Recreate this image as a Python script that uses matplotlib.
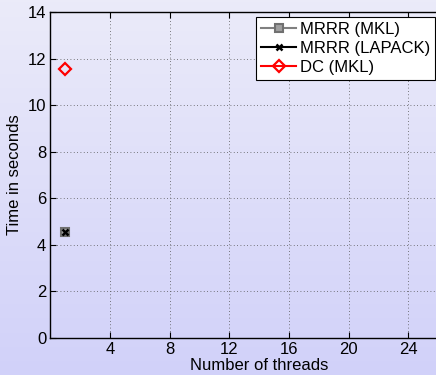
import numpy as np
import matplotlib
matplotlib.use("Agg")
import matplotlib.pyplot as plt

plt.rcParams['font.family'] = ['Liberation Sans', 'DejaVu Sans']

# data
threads = [1]
mrrr_mkl = [4.56]
mrrr_lapack = [4.56]
dc_mkl = [11.54]

xticks = [4, 8, 12, 16, 20, 24]
yticks = [0, 2, 4, 6, 8, 10, 12, 14]

fig = plt.figure(figsize=(4.36, 3.75), dpi=100)

# lavender gradient background
bg = fig.add_axes([0, 0, 1, 1], zorder=-10)
grad = np.linspace(0, 1, 256).reshape(-1, 1)
top = np.array([0.922, 0.922, 0.98])
bot = np.array([0.82, 0.82, 0.98])
img = top + grad[..., None] * (bot - top)
bg.imshow(img, aspect='auto', extent=[0, 1, 0, 1])
bg.axis('off')

ax = fig.add_axes([0.1158, 0.0995, 0.957, 0.868])
ax.set_facecolor('none')

ax.plot(threads, mrrr_mkl, '-s', color='#808080', mfc='#a0a0a0', mec='#707070',
        ms=6, mew=1.5, lw=1.5, label='MRRR (MKL)')
ax.plot(threads, mrrr_lapack, '-x', color='black', ms=5, mew=1.8, lw=1.5,
        label='MRRR (LAPACK)')
ax.plot(threads, dc_mkl, '-D', color='red', mfc='none', ms=6, mew=1.6, lw=1.5,
        label='DC (MKL)')

ax.set_xlim(0, 28)
ax.set_ylim(0, 14)
ax.set_xticks(xticks)
ax.set_yticks(yticks)
ax.tick_params(direction='in', top=True, right=True, labelsize=12, length=4,
               width=0.8, pad=3)
ax.grid(True, linestyle=(0, (1, 3)), color='#555555', lw=0.6)
for s in ax.spines.values():
    s.set_linewidth(1.0)

ax.set_xlabel('Number of threads', fontsize=12, labelpad=1)
ax.set_ylabel('Time in seconds', fontsize=12, labelpad=4)

leg = ax.legend(loc='upper right', bbox_to_anchor=(435 / 436, 1 - 17 / 375),
                bbox_transform=fig.transFigure, fontsize=12, fancybox=False,
                framealpha=1, edgecolor='black', handlelength=2.1,
                handletextpad=0.2, borderpad=0.3, labelspacing=0.25,
                borderaxespad=0)
leg.get_frame().set_linewidth(0.8)

fig.savefig('out.png', dpi=100)
